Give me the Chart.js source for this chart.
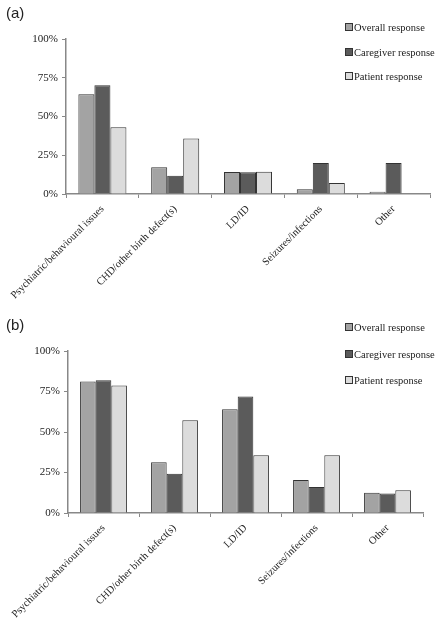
<!DOCTYPE html>
<html lang="en">
<head>
  <meta charset="UTF-8" />
  <title>Reported issues by response group</title>
  <script src="https://cdn.jsdelivr.net/npm/chart.js"></script>
  <style>
    body { margin: 0; background: #fff; width: 439px; height: 618px; overflow: hidden; }
    .panel { position: absolute; left: 0; width: 439px; }
    .panel canvas { position: absolute; left: 0; top: 0; }
    .tag { position: absolute; left: 6px; font-family: "Liberation Sans", Arial, sans-serif; font-size: 15px; color: #222; }
    .legend { position: absolute; left: 345px; font-family: "Liberation Serif", "Times New Roman", serif; font-size: 10.5px; color: #222; }
    .legend div { position: absolute; left: 0; white-space: nowrap; line-height: 12px; }
    .legend span.box { display: inline-block; width: 6px; height: 6px; border: 1px solid #333; margin-right: 1px; vertical-align: 0px; }
  </style>
</head>
<body>
  <div class="panel" id="panelA" style="top:0; height:300px;">
    <canvas id="chartA" width="439" height="300"></canvas>
    <div class="tag" style="top:4px;">(a)</div>
    <div class="legend" id="legendA" style="top:22px;"></div>
  </div>
  <div class="panel" id="panelB" style="top:300px; height:318px;">
    <canvas id="chartB" width="439" height="318"></canvas>
    <div class="tag" style="top:16px;">(b)</div>
    <div class="legend" id="legendB" style="top:22px;"></div>
  </div>

  <script>
    // categories and series
    const categories = ['Psychiatric/behavioural issues', 'CHD/other birth defect(s)', 'LD/ID', 'Seizures/infections', 'Other'];
    const seriesNames = ['Overall response', 'Caregiver response', 'Patient response'];
    const seriesColors = ['#a3a3a3', '#5b5b5b', '#dcdcdc'];
    const yTicks = [0, 25, 50, 75, 100];

    // panel (a) values, %
    const aOverall = [64.4, 17.2, 14.2, 3.0, 1.5];
    const aCaregiver = [70.2, 11.8, 14.0, 20.0, 20.0];
    const aPatient = [43.1, 35.8, 14.3, 7.1, 0];

    // panel (b) values, %
    const bOverall = [81.1, 31.4, 64.1, 20.3, 12.5];
    const bCaregiver = [82.0, 24.2, 71.9, 16.0, 12.1];
    const bPatient = [78.7, 57.2, 35.7, 35.7, 14.1];

    const serif = '"Liberation Serif", "Times New Roman", serif';

    function makeChart(id, values, box) {
      const ctx = document.getElementById(id).getContext('2d');
      return new Chart(ctx, {
        type: 'bar',
        data: {
          labels: categories,
          datasets: values.map((v, i) => ({
            label: seriesNames[i],
            data: v,
            backgroundColor: seriesColors[i],
            borderColor: '#333',
            borderWidth: 1,
            borderSkipped: 'start',
            categoryPercentage: 0.66,
            barPercentage: 1
          }))
        },
        options: {
          responsive: false,
          animation: false,
          layout: { padding: { left: 0, right: box.right, top: box.top, bottom: 0 } },
          plugins: { legend: { display: false }, tooltip: { enabled: false } },
          scales: {
            x: {
              grid: { drawOnChartArea: false, offset: true, color: '#888', tickLength: 4 },
              border: { color: '#888', width: 1.5 },
              ticks: {
                minRotation: 45, maxRotation: 45, autoSkip: false, padding: 5,
                color: '#222', font: { family: serif, size: 10.5 }
              },
              afterFit: s => { s.height = box.xHeight; }
            },
            y: {
              min: 0, max: 100,
              afterBuildTicks: s => { s.ticks = yTicks.map(v => ({ value: v })); },
              grid: { drawOnChartArea: false, color: '#888', tickLength: 4 },
              border: { color: '#888', width: 1.5 },
              ticks: {
                padding: 4, color: '#222', font: { family: serif, size: 11 },
                callback: v => v + '%'
              },
              afterFit: s => { s.width = box.yWidth; }
            }
          }
        }
      });
    }

    function makeLegend(id, gap) {
      const el = document.getElementById(id);
      seriesNames.forEach((name, i) => {
        const d = document.createElement('div');
        d.style.top = (i * gap) + 'px';
        d.innerHTML = `<span class="box" style="background:${seriesColors[i]}"></span>${name}`;
        el.appendChild(d);
      });
    }

    makeChart('chartA', [aOverall, aCaregiver, aPatient], { top: 39, right: 9, yWidth: 66, xHeight: 106 });
    makeChart('chartB', [bOverall, bCaregiver, bPatient], { top: 51, right: 16, yWidth: 68, xHeight: 105 });
    makeLegend('legendA', 24.5);
    makeLegend('legendB', 26.5);
  </script>
</body>
</html>
